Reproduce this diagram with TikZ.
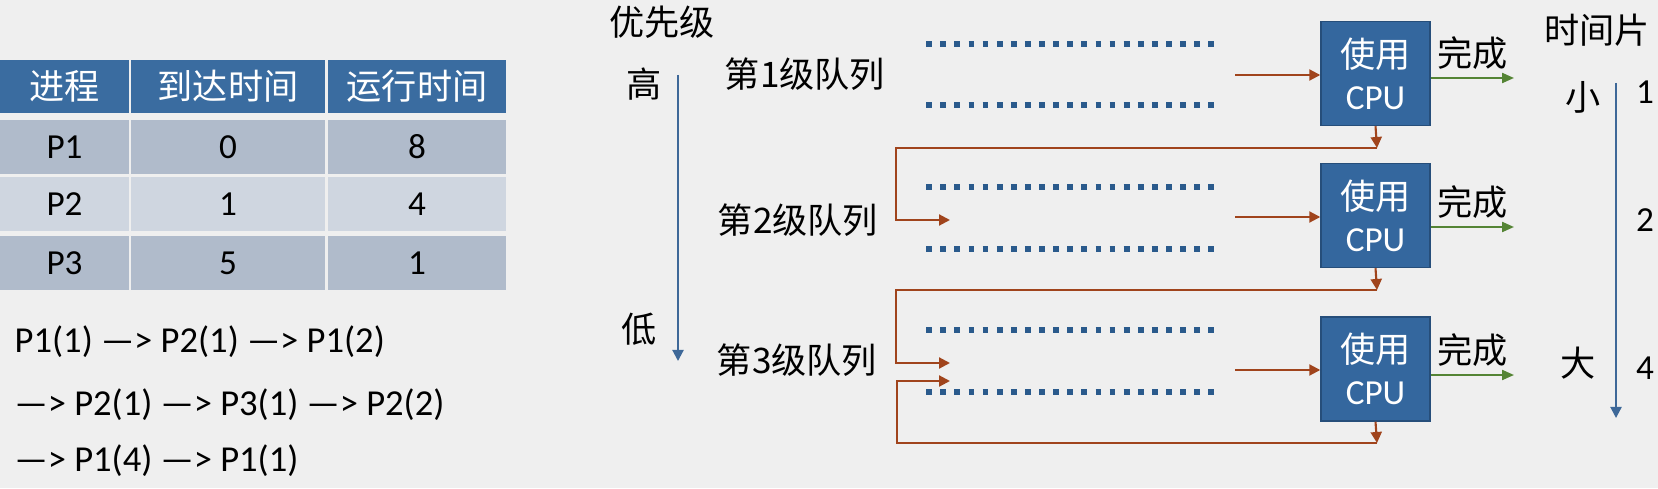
\documentclass[tikz,border=0pt]{standalone}
\usepackage{fontspec}
\setmainfont{Carlito}
\newfontfamily\cjk{Noto Sans CJK SC}
\usepackage{xcolor}
\usepackage{tikz}
\usetikzlibrary{arrows.meta, positioning}
\definecolor{bg}{RGB}{239,239,239}
\definecolor{headblue}{RGB}{58,108,160}
\definecolor{rowdark}{RGB}{176,187,203}
\definecolor{rowlight}{RGB}{207,214,224}
\definecolor{cpublue}{RGB}{52,103,158}
\definecolor{cpuline}{RGB}{38,78,122}
\definecolor{dotblue}{RGB}{42,90,140}
\definecolor{feedback}{RGB}{160,68,28}
\definecolor{donegreen}{RGB}{84,132,52}
\definecolor{axisblue}{RGB}{62,104,152}

\begin{document}
\begin{tikzpicture}[x=0.01cm, y=-0.01cm]
    % Define styles
    \tikzstyle{headcell} = [rectangle, fill=headblue, text=white, minimum height=0.53cm, inner sep=0pt, font=\cjk]
    \tikzstyle{cell} = [rectangle, minimum height=0.54cm, inner sep=0pt]
    \tikzstyle{plain} = [inner sep=0pt, font=\cjk]
    \tikzstyle{order} = [inner sep=0pt, anchor=west, font=\fontsize{10.4}{12}\selectfont]
    \tikzstyle{queue} = [rectangle, minimum width=2.9cm, minimum height=0.6cm, inner sep=0pt]
    \tikzstyle{dots} = [draw=dotblue, line width=0.058cm, dash pattern=on 0.058cm off 0.083cm]
    \tikzstyle{cpu} = [rectangle, draw=cpuline, fill=cpublue, text=white, minimum width=1.09cm, minimum height=1.04cm, align=center, inner sep=0pt]
    \tikzstyle{arrow} = [draw=feedback, line width=0.6pt, -{Triangle[length=0.11cm, width=0.11cm]}]
    \tikzstyle{done} = [draw=donegreen, line width=0.6pt, -{Triangle[length=0.12cm, width=0.1cm]}]
    \tikzstyle{axisarrow} = [draw=axisblue, line width=0.6pt, -{Triangle[length=0.11cm, width=0.11cm]}]

    % Background
    \fill[bg] (0,0) rectangle (1658,488);
    \useasboundingbox (0,0) rectangle (1658,488);

    % Table
    \node[headcell, minimum width=1.29cm] (h1) at (64.5,86.5) {进程};
    \node[headcell, minimum width=1.94cm] (h2) at (228,86.5) {到达时间};
    \node[headcell, minimum width=1.78cm] (h3) at (417,86.5) {运行时间};
    \node[cell, fill=rowdark, minimum width=1.29cm] (p1a) at (64.5,147) {P1};
    \node[cell, fill=rowdark, minimum width=1.94cm] (p1b) at (228,147) {0};
    \node[cell, fill=rowdark, minimum width=1.78cm] (p1c) at (417,147) {8};
    \node[cell, fill=rowlight, minimum width=1.29cm] (p2a) at (64.5,204) {P2};
    \node[cell, fill=rowlight, minimum width=1.94cm] (p2b) at (228,204) {1};
    \node[cell, fill=rowlight, minimum width=1.78cm] (p2c) at (417,204) {4};
    \node[cell, fill=rowdark, minimum width=1.29cm] (p3a) at (64.5,263) {P3};
    \node[cell, fill=rowdark, minimum width=1.94cm] (p3b) at (228,263) {5};
    \node[cell, fill=rowdark, minimum width=1.78cm] (p3c) at (417,263) {1};

    % Order of execution
    \node[order] (order1) at (14,342) {P1(1) —> P2(1) —> P1(2)};
    \node[order] (order2) at (14,405) {—> P2(1) —> P3(1) —> P2(2)};
    \node[order] (order3) at (14,461) {—> P1(4) —> P1(1)};

    % Priority
    \node[plain] (prio) at (662,22) {优先级};
    \node[plain] (high) at (644,84) {高};
    \node[plain] (low) at (639,329) {低};
    \coordinate (ptop) at (678,75);
    \coordinate (pbot) at (678,361);
    \draw[axisarrow] (ptop) -- (pbot);

    % Queues
    \node[plain] (lab1) at (805,74) {第1级队列};
    \node[plain] (lab2) at (798,220) {第2级队列};
    \node[plain] (lab3) at (797,360) {第3级队列};
    \node[queue] (q1) at (1072,74.5) {};
    \node[queue] (q2) at (1072,218) {};
    \node[queue] (q3) at (1072,361) {};
    \draw[dots] (q1.north west) -- (q1.north east);
    \draw[dots] (q1.south west) -- (q1.south east);
    \draw[dots] (q2.north west) -- (q2.north east);
    \draw[dots] (q2.south west) -- (q2.south east);
    \draw[dots] (q3.north west) -- (q3.north east);
    \draw[dots] (q3.south west) -- (q3.south east);

    % CPU
    \node[cpu] (cpu1) at (1375.5,73.5) {\cjk 使用\\CPU};
    \node[cpu] (cpu2) at (1375.5,215.5) {\cjk 使用\\CPU};
    \node[cpu] (cpu3) at (1375.5,369) {\cjk 使用\\CPU};

    % Arrows into CPU
    \coordinate (s1) at (1235,75);
    \coordinate (s2) at (1235,217);
    \coordinate (s3) at (1235,370);
    \draw[arrow] (s1) -- (s1 -| cpu1.west);
    \draw[arrow] (s2) -- (s2 -| cpu2.west);
    \draw[arrow] (s3) -- (s3 -| cpu3.west);

    % Finished
    \coordinate (d1) at (1514,78);
    \coordinate (d2) at (1514,227);
    \coordinate (d3) at (1514,375);
    \draw[done] (d1 -| cpu1.east) -- node[plain, above=0.07cm] {完成} (d1);
    \draw[done] (d2 -| cpu2.east) -- node[plain, above=0.07cm] {完成} (d2);
    \draw[done] (d3 -| cpu3.east) -- node[plain, above=0.07cm] {完成} (d3);

    % Back to lower queue
    \coordinate (b1) at (1377,148);
    \coordinate (b2) at (1377,290);
    \coordinate (b3) at (1377,443);
    \coordinate (in2) at (950,220);
    \coordinate (in3a) at (950,363);
    \coordinate (in3b) at (950,381);
    \draw[arrow] (cpu1.south) -- (b1);
    \draw[arrow] (cpu2.south) -- (b2);
    \draw[arrow] (cpu3.south) -- (b3);
    \draw[arrow] (b1) -| ([xshift=-0.54cm]in2) -- (in2);
    \draw[arrow] (b2) -| ([xshift=-0.54cm]in3a) -- (in3a);
    \draw[arrow] (b3) -| ([xshift=-0.53cm]in3b) -- (in3b);

    % Time slice
    \node[plain] (slice) at (1597,30) {时间片};
    \node[plain] (small) at (1583,97) {小};
    \node[plain] (big) at (1578,363) {大};
    \node[inner sep=0pt] (t1) at (1645,92) {1};
    \node[inner sep=0pt] (t2) at (1645,220) {2};
    \node[inner sep=0pt] (t4) at (1645,368) {4};
    \coordinate (stop) at (1616,83);
    \coordinate (sbot) at (1616,418);
    \draw[axisarrow] (stop) -- (sbot);
\end{tikzpicture}
\end{document}
